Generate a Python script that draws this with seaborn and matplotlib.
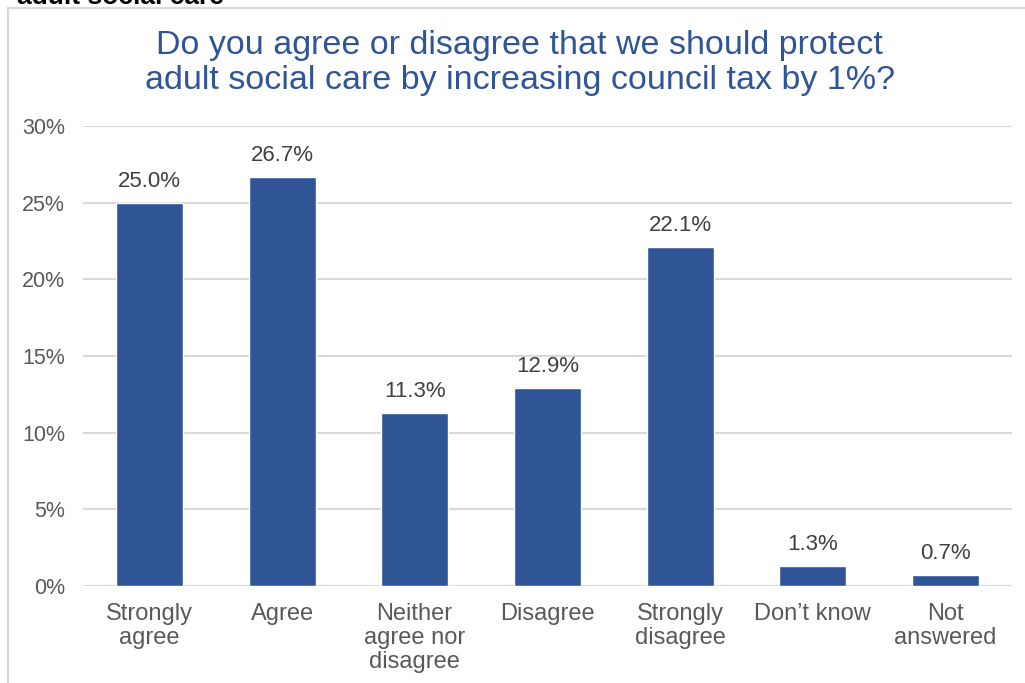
import matplotlib
matplotlib.use('Agg')
import matplotlib.pyplot as plt
import seaborn as sns
import pandas as pd
from matplotlib.patches import Rectangle

# chart data
categories = ['Strongly\nagree', 'Agree', 'Neither\nagree nor\ndisagree', 'Disagree',
              'Strongly\ndisagree', 'Don\u2019t know', 'Not\nanswered']
values = [25.0, 26.7, 11.3, 12.9, 22.1, 1.3, 0.7]
y_ticks = [0, 5, 10, 15, 20, 25, 30]
title = 'Do you agree or disagree that we should protect\nadult social care by increasing council tax by 1%?'

df = pd.DataFrame({'answer': categories, 'pct': values})

sns.set_style('white')
plt.rcParams['font.family'] = ['Liberation Sans', 'DejaVu Sans']

blue = '#2F5597'
grey = '#595959'

fig = plt.figure(figsize=(10.25, 6.83), dpi=100)
ax = fig.add_axes([0.081, 0.142, 0.906, 0.6735])

sns.barplot(data=df, x='answer', y='pct', color=blue, width=0.505,
            saturation=1, ax=ax, zorder=3)

ax.set_ylim(0, 30)
ax.set_yticks(y_ticks)
ax.set_yticklabels([f'{t}%' for t in y_ticks], color=grey, fontsize=15.5)
ax.tick_params(axis='y', length=0, pad=13)
ax.tick_params(axis='x', length=0, pad=12, labelsize=17, labelcolor=grey)
for lbl in ax.get_xticklabels():
    lbl.set_linespacing(1.12)
ax.set_xlabel('')
ax.set_ylabel('')
ax.grid(axis='y', color='#D9D9D9', linewidth=1.5, zorder=0)
sns.despine(ax=ax, left=True, bottom=True, top=True, right=True)

for i, v in enumerate(values):
    ax.annotate(f'{v:.1f}%', (i, v), xytext=(0, 8), textcoords='offset points',
                ha='center', va='bottom', fontsize=16, color='#404040')

fig.text(0.507, 0.908, title, ha='center', va='center', fontsize=24.5,
         color=blue, linespacing=1.15)

# frame of the chart box and the cut-off heading above it
fig.add_artist(Rectangle((8 / 1025, -0.1), 1.2, 1.1 - 8 / 683, transform=fig.transFigure,
                         fill=False, edgecolor='#D9D9D9', linewidth=1.5))
fig.text(17 / 1025, 1 - 4 / 683, 'adult social care', ha='left', va='baseline',
         fontsize=19, fontweight='bold', color='black')

fig.savefig('out.png', dpi=100)
